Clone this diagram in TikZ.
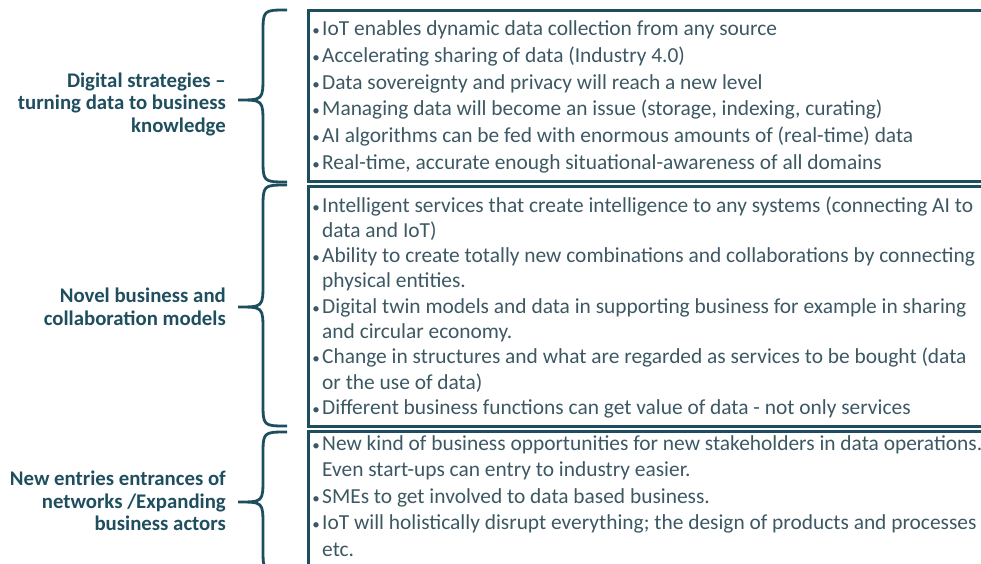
\documentclass[tikz,border=0pt]{standalone}
\usepackage{fontspec}
\setmainfont{Carlito}
\definecolor{bordc}{HTML}{1C4E5E}
\definecolor{labc}{HTML}{1F4E5F}
\definecolor{txtc}{HTML}{3C5863}
\newcommand\bx{316}
\newcommand\tx{322}
\newcommand\bitem[3]{\node[bdot] (d#1) at (\bx,#2) {•};\node[btext] (t#1) at (\tx,#2) {#3};}
\newcommand\bcont[3]{\node[btext] (t#1) at (\tx,#2) {#3};}
\newcommand\mybrace[3]{\draw[brc] (287,#1) .. controls (263,#1) .. (263,#1+24) -- (263,#2-24) .. controls (263,#2) .. (238,#2) .. controls (263,#2) .. (263,#2+24) -- (263,#3-24) .. controls (263,#3) .. (287,#3);}
\begin{document}
\begin{tikzpicture}[x=1pt,y=-1pt,
  box/.style={draw=bordc,line width=3pt,inner sep=0pt,outer sep=0pt,anchor=north west,minimum width=720pt},
  brc/.style={draw=bordc,line width=2.8pt},
  btext/.style={anchor=base west,inner sep=0pt,text=txtc,font=\fontsize{21.4}{25}\selectfont},
  bdot/.style={anchor=base,inner sep=0pt,text=txtc,font=\fontsize{15}{20}\selectfont},
  lab/.style={anchor=east,align=right,inner sep=0pt,text=labc,font=\bfseries\fontsize{20.8}{22.5}\selectfont}]
\useasboundingbox (0,0) rectangle (981,564);
\clip (0,0) rectangle (981,564);
\node[box,minimum height=170pt] (b1) at (308,11) {};
\node[box,minimum height=240pt] (b2) at (308,186) {};
\node[box,minimum height=142pt] (b3) at (308,431) {};
% box 1
\bitem{a1}{36}{IoT enables dynamic data collection from any source}
\bitem{a2}{62.6}{Accelerating sharing of data (Industry 4.0)}
\bitem{a3}{89.2}{Data sovereignty and privacy will reach a new level}
\bitem{a4}{115.8}{Managing data will become an issue (storage, indexing, curating)}
\bitem{a5}{142.4}{AI algorithms can be fed with enormous amounts of (real-time) data}
\bitem{a6}{169}{Real-time, accurate enough situational-awareness of all domains}
% box 2
\bitem{c1}{212}{Intelligent services that create intelligence to any systems (connecting AI to}
\bcont{c2}{237.3}{data and IoT)}
\bitem{c3}{262.6}{Ability to create totally new combinations and collaborations by connecting}
\bcont{c4}{287.9}{physical entities.}
\bitem{c5}{313.2}{Digital twin models and data in supporting business for example in sharing}
\bcont{c6}{338.5}{and circular economy.}
\bitem{c7}{363.8}{Change in structures and what are regarded as services to be bought (data}
\bcont{c8}{389.1}{or the use of data)}
\bitem{c9}{414.4}{Different business functions can get value of data - not only services}
% box 3
\bitem{e1}{450}{New kind of business opportunities for new stakeholders in data operations.}
\bcont{e2}{476.5}{Even start-ups can entry to industry easier.}
\bitem{e3}{503}{SMEs to get involved to data based business.}
\bitem{e4}{529.5}{IoT will holistically disrupt everything; the design of products and processes}
\bcont{e5}{556}{etc.}
% labels
\node[lab] (l1) at (226,104) {Digital strategies –\\turning data to business\\knowledge};
\node[lab] (l2) at (226,307) {Novel business and\\collaboration models};
\node[lab] (l3) at (226,501) {New entries entrances of\\networks /Expanding\\business actors};
% braces
\mybrace{10}{100}{182}
\mybrace{185}{307}{426}
\mybrace{432}{502}{572}
\end{tikzpicture}
\end{document}
